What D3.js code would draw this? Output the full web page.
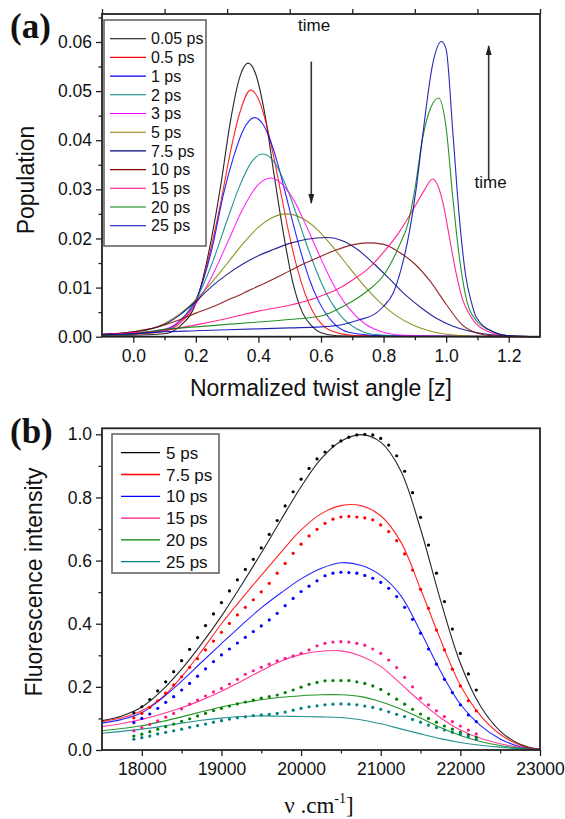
<!DOCTYPE html>
<html>
<head>
<meta charset="utf-8">
<script src="https://cdn.jsdelivr.net/npm/d3@7"></script>
<style>
  body { margin: 0; background: #fff; }
  svg { display: block; }
  text { font-family: Arial, "Liberation Sans", sans-serif; fill: #111; }
</style>
</head>
<body>
<svg id="chart" width="565" height="819"></svg>
<script>
// ---------- panel (a) data: population vs normalized twist angle ----------
const legendA = ["0.05 ps", "0.5 ps", "1 ps", "2 ps", "3 ps", "5 ps", "7.5 ps", "10 ps", "15 ps", "20 ps", "25 ps"];
const colorsA = ["#000000", "#ff0000", "#0000ff", "#008080", "#ff00ff", "#808000", "#000080", "#800000", "#ff0080", "#008000", "#0000b0"];

const pop005 = [[-0.1,0.0003],[0,0.0003],[0.1,0.0006],[0.15,0.0022],[0.2,0.0068],[0.25,0.020],[0.28,0.031],[0.31,0.0437],[0.34,0.0528],[0.367,0.0557],[0.39,0.0537],[0.42,0.0455],[0.45,0.033],[0.48,0.021],[0.51,0.011],[0.54,0.005],[0.57,0.0022],[0.6,0.0008],[0.65,0.0002],[0.8,0.0001],[1.3,0]];
const pop05 = [[-0.1,0.0004],[0,0.0005],[0.1,0.0011],[0.15,0.0028],[0.2,0.0072],[0.25,0.0185],[0.28,0.0275],[0.31,0.0375],[0.34,0.0455],[0.375,0.0502],[0.4,0.0484],[0.425,0.0434],[0.45,0.0363],[0.475,0.0282],[0.5,0.0203],[0.525,0.0137],[0.55,0.0086],[0.575,0.005],[0.6,0.0027],[0.625,0.0014],[0.7,0.0003],[0.9,0.0001],[1.3,0]];
const pop1 = [[-0.1,0.0004],[0,0.0006],[0.1,0.0013],[0.15,0.0033],[0.2,0.0075],[0.25,0.0175],[0.29,0.0295],[0.32,0.0365],[0.35,0.0419],[0.388,0.0446],[0.413,0.0434],[0.438,0.040],[0.463,0.0349],[0.488,0.0288],[0.513,0.0225],[0.538,0.0167],[0.563,0.0117],[0.588,0.0078],[0.638,0.0029],[0.688,0.0009],[0.8,0.0002],[1.3,0]];
const pop2 = [[-0.1,0.0004],[0,0.0006],[0.1,0.0013],[0.15,0.0033],[0.2,0.0075],[0.25,0.0146],[0.3,0.0237],[0.34,0.0307],[0.375,0.0353],[0.414,0.0372],[0.439,0.0364],[0.464,0.0341],[0.489,0.0306],[0.514,0.0263],[0.539,0.0216],[0.564,0.017],[0.589,0.0128],[0.614,0.0092],[0.664,0.0042],[0.714,0.0016],[0.764,0.0005],[0.9,0.0001],[1.3,0]];
const pop3 = [[-0.1,0.0005],[0,0.0007],[0.1,0.0015],[0.15,0.0032],[0.2,0.0067],[0.25,0.0121],[0.3,0.019],[0.35,0.026],[0.4,0.031],[0.439,0.0323],[0.464,0.0317],[0.489,0.0301],[0.514,0.0277],[0.539,0.0245],[0.564,0.021],[0.589,0.0174],[0.614,0.0139],[0.639,0.0107],[0.689,0.0058],[0.739,0.0027],[0.789,0.0011],[0.839,0.0004],[1.0,0.0001],[1.3,0]];
const pop5 = [[-0.1,0.0004],[0,0.0008],[0.1,0.0027],[0.15,0.0047],[0.2,0.0075],[0.25,0.011],[0.3,0.0149],[0.35,0.0189],[0.4,0.0223],[0.44,0.0241],[0.49,0.025],[0.54,0.0241],[0.59,0.0217],[0.64,0.0181],[0.69,0.0141],[0.74,0.0102],[0.79,0.0069],[0.84,0.0043],[0.89,0.0025],[0.94,0.0013],[0.99,0.0006],[1.1,0.0001],[1.3,0]];
const pop75 = [[-0.1,0.0005],[0,0.001],[0.1,0.0025],[0.15,0.0045],[0.2,0.0072],[0.25,0.0102],[0.3,0.0127],[0.35,0.0148],[0.4,0.0165],[0.45,0.0178],[0.5,0.019],[0.55,0.0198],[0.62,0.0202],[0.67,0.0195],[0.72,0.0176],[0.77,0.0148],[0.82,0.0117],[0.87,0.0085],[0.92,0.0059],[0.97,0.0037],[1.02,0.0022],[1.07,0.0012],[1.12,0.0006],[1.22,0.0001],[1.3,0]];
const pop10 = [[-0.1,0.0005],[0,0.001],[0.1,0.0024],[0.15,0.0035],[0.2,0.0048],[0.25,0.006],[0.3,0.0074],[0.35,0.0088],[0.4,0.0103],[0.45,0.0118],[0.5,0.0134],[0.55,0.015],[0.6,0.0164],[0.65,0.0177],[0.7,0.0187],[0.75,0.0191],[0.8,0.0188],[0.85,0.0172],[0.9,0.0148],[0.95,0.0112],[1.0,0.0066],[1.05,0.0025],[1.1,0.0007],[1.15,0.0002],[1.3,0]];
const pop15 = [[-0.1,0.0004],[0,0.0008],[0.1,0.0013],[0.2,0.0024],[0.3,0.0037],[0.4,0.0052],[0.5,0.0064],[0.55,0.0072],[0.6,0.0083],[0.65,0.0096],[0.7,0.0115],[0.75,0.0138],[0.8,0.0172],[0.85,0.0213],[0.9,0.0265],[0.93,0.0298],[0.957,0.0321],[0.975,0.0305],[0.99,0.0272],[1.01,0.0204],[1.032,0.0129],[1.053,0.0075],[1.075,0.0045],[1.095,0.0027],[1.15,0.0007],[1.2,0.0002],[1.3,0]];
const pop20 = [[-0.1,0.0003],[0,0.0006],[0.1,0.0015],[0.2,0.002],[0.3,0.0025],[0.4,0.003],[0.5,0.0035],[0.6,0.0042],[0.65,0.0055],[0.7,0.0072],[0.75,0.0094],[0.8,0.0125],[0.85,0.0185],[0.88,0.0235],[0.9,0.030],[0.925,0.0405],[0.95,0.0465],[0.976,0.0486],[1.0,0.0425],[1.021,0.0285],[1.042,0.0163],[1.063,0.0081],[1.095,0.0034],[1.15,0.001],[1.2,0.0002],[1.3,0]];
const pop25 = [[-0.1,0.0004],[0,0.0006],[0.1,0.001],[0.2,0.0012],[0.3,0.0014],[0.4,0.0016],[0.5,0.0018],[0.6,0.002],[0.67,0.0025],[0.72,0.0034],[0.776,0.0048],[0.8,0.0062],[0.83,0.0088],[0.855,0.0135],[0.883,0.0215],[0.904,0.03],[0.925,0.041],[0.957,0.0555],[0.985,0.0601],[1.0,0.0585],[1.021,0.042],[1.042,0.0244],[1.063,0.0122],[1.08,0.0072],[1.095,0.0041],[1.15,0.001],[1.2,0.0002],[1.3,0]];
const seriesA = [pop005, pop05, pop1, pop2, pop3, pop5, pop75, pop10, pop15, pop20, pop25];

const xTicksA = [0, 0.2, 0.4, 0.6, 0.8, 1.0, 1.2];
const xMinorA = [-0.1, 0.1, 0.3, 0.5, 0.7, 0.9, 1.1, 1.3];
const yTicksA = [0, 0.01, 0.02, 0.03, 0.04, 0.05, 0.06];
const yMinorA = [0.005, 0.015, 0.025, 0.035, 0.045, 0.055, 0.065];

// ---------- panel (b) data: fluorescence intensity vs wavenumber ----------
const legendB = ["5 ps", "7.5 ps", "10 ps", "15 ps", "20 ps", "25 ps"];
const colorsB = ["#000000", "#ff0000", "#0000ff", "#ff1a8c", "#008000", "#008080"];

const nuFit = [17500,17750,18000,18250,18500,18750,19000,19250,19500,19750,20000,20250,20500,20750,21000,21250,21500,21750,22000,22250,22500,22750,23000];
const fit5  = [0.093,0.108,0.136,0.188,0.256,0.336,0.424,0.522,0.624,0.73,0.834,0.922,0.978,0.999,0.975,0.885,0.70,0.475,0.275,0.14,0.06,0.018,0.002];
const fit75 = [0.09,0.102,0.124,0.165,0.232,0.313,0.40,0.478,0.553,0.627,0.697,0.748,0.774,0.774,0.742,0.66,0.51,0.35,0.205,0.11,0.05,0.015,0.002];
const fit10 = [0.085,0.097,0.118,0.163,0.218,0.278,0.337,0.395,0.45,0.498,0.542,0.575,0.593,0.585,0.553,0.49,0.375,0.25,0.145,0.078,0.035,0.01,0.001];
const fit15 = [0.074,0.084,0.097,0.114,0.134,0.158,0.186,0.218,0.251,0.282,0.303,0.313,0.314,0.298,0.265,0.21,0.153,0.102,0.063,0.037,0.02,0.008,0.001];
const fit20 = [0.061,0.068,0.077,0.09,0.105,0.121,0.136,0.149,0.159,0.167,0.172,0.175,0.175,0.169,0.153,0.13,0.101,0.071,0.046,0.027,0.014,0.006,0.001];
const fit25 = [0.053,0.059,0.066,0.075,0.085,0.094,0.101,0.106,0.108,0.107,0.106,0.105,0.103,0.096,0.083,0.067,0.051,0.036,0.024,0.015,0.009,0.004,0.001];
const fitsB = [fit5, fit75, fit10, fit15, fit20, fit25];

const nuExp = [17900,18000,18100,18200,18300,18400,18500,18600,18700,18800,18900,19000,19100,19200,19300,19400,19500,19600,19700,19800,19900,20000,20100,20200,20300,20400,20500,20600,20700,20800,20900,21000,21100,21200,21300,21400,21500,21600,21700,21800,21900,22000,22100,22200];
const exp5  = [0.118,0.137,0.160,0.187,0.216,0.248,0.283,0.319,0.356,0.394,0.431,0.467,0.504,0.539,0.572,0.604,0.640,0.683,0.727,0.773,0.818,0.858,0.892,0.922,0.944,0.963,0.979,0.991,0.998,1.0,0.998,0.987,0.966,0.932,0.883,0.815,0.737,0.649,0.560,0.470,0.383,0.306,0.241,0.190];
const exp75 = [0.102,0.116,0.135,0.156,0.180,0.206,0.232,0.262,0.289,0.317,0.345,0.373,0.401,0.428,0.452,0.476,0.501,0.528,0.560,0.591,0.623,0.652,0.678,0.699,0.718,0.731,0.738,0.740,0.738,0.735,0.729,0.713,0.692,0.663,0.621,0.570,0.509,0.449,0.380,0.317,0.256,0.203,0.156,0.124];
const exp10 = [0.087,0.100,0.114,0.132,0.151,0.169,0.190,0.211,0.234,0.257,0.280,0.301,0.320,0.339,0.357,0.375,0.393,0.412,0.433,0.457,0.480,0.502,0.519,0.536,0.552,0.560,0.563,0.562,0.560,0.553,0.544,0.531,0.512,0.486,0.452,0.414,0.370,0.320,0.272,0.224,0.182,0.143,0.111,0.090];
const exp15 = [0.061,0.071,0.081,0.092,0.104,0.116,0.130,0.145,0.158,0.171,0.184,0.195,0.209,0.224,0.240,0.251,0.262,0.272,0.282,0.290,0.298,0.306,0.317,0.330,0.338,0.342,0.343,0.342,0.338,0.332,0.320,0.306,0.285,0.261,0.230,0.200,0.164,0.143,0.124,0.106,0.090,0.076,0.063,0.051];
const exp20 = [0.044,0.050,0.058,0.066,0.074,0.082,0.091,0.099,0.108,0.116,0.125,0.132,0.139,0.146,0.152,0.158,0.164,0.169,0.174,0.182,0.190,0.199,0.208,0.214,0.219,0.220,0.220,0.220,0.216,0.211,0.203,0.192,0.177,0.161,0.145,0.129,0.114,0.100,0.088,0.076,0.066,0.056,0.048,0.040];
const exp25 = [0.034,0.039,0.044,0.051,0.056,0.061,0.066,0.072,0.077,0.082,0.088,0.093,0.098,0.102,0.105,0.109,0.111,0.113,0.116,0.120,0.126,0.132,0.137,0.140,0.143,0.145,0.146,0.145,0.143,0.139,0.135,0.129,0.121,0.113,0.106,0.097,0.088,0.079,0.071,0.063,0.056,0.050,0.042,0.034];
const expsB = [exp5, exp75, exp10, exp15, exp20, exp25];

const xTicksB = [18000, 19000, 20000, 21000, 22000, 23000];
const xMinorB = [18500, 19500, 20500, 21500, 22500];
const yTicksB = [0, 0.2, 0.4, 0.6, 0.8, 1.0];
const yMinorB = [0.1, 0.3, 0.5, 0.7, 0.9];

// ---------- drawing ----------
const svg = d3.select("#chart");
const AXIS_COLOR = "#222";
const TICK_FONT = 17.5;
const SERIF = "'Times New Roman', 'Liberation Serif', serif";

const xA = d3.scaleLinear().domain([-0.1, 1.3]).range([102, 540]);
const yA = d3.scaleLinear().domain([0, 0.0657]).range([336.7, 14]);
const xB = d3.scaleLinear().domain([17500, 23000]).range([102, 540]);
const yB = d3.scaleLinear().domain([0, 1.019]).range([750, 428.3]);

function styleAxis(g) {
    g.select(".domain").remove();
    g.selectAll(".tick line").attr("stroke", AXIS_COLOR).attr("stroke-width", 1.3);
    g.selectAll(".tick text").style("font-size", TICK_FONT + "px").attr("fill", "#111");
}

function drawFrame(x, y) {
    const [x0, x1] = x.range();
    const [y0, y1] = y.range();
    svg.append("rect")
        .attr("x", x0).attr("y", y1)
        .attr("width", x1 - x0).attr("height", y0 - y1)
        .attr("fill", "none")
        .attr("stroke", AXIS_COLOR)
        .attr("stroke-width", 1.8);
}

function drawTicks({x, y, xTicks, xMinor, yTicks, yMinor, xFormat, yFormat, topTicks}) {
    const yBottom = y.range()[0], xLeft = x.range()[0], yTop = y.range()[1];

    svg.append("g").attr("transform", `translate(0,${yBottom})`)
        .call(d3.axisBottom(x).tickValues(xTicks).tickSize(6).tickPadding(7).tickFormat(xFormat))
        .call(styleAxis);
    svg.append("g").attr("transform", `translate(0,${yBottom})`)
        .call(d3.axisBottom(x).tickValues(xMinor).tickSize(3.5).tickFormat(""))
        .call(styleAxis);

    svg.append("g").attr("transform", `translate(${xLeft},0)`)
        .call(d3.axisLeft(y).tickValues(yTicks).tickSize(6).tickPadding(4).tickFormat(yFormat))
        .call(styleAxis);
    svg.append("g").attr("transform", `translate(${xLeft},0)`)
        .call(d3.axisLeft(y).tickValues(yMinor).tickSize(3.5).tickFormat(""))
        .call(styleAxis);

    if (topTicks) {
        svg.append("g").attr("transform", `translate(0,${yTop})`)
            .call(d3.axisTop(x).tickValues(topTicks).tickSize(5).tickFormat(""))
            .call(styleAxis);
    }
}

function drawLegend({labels, colors, left, top, width, height, rowStart, rowStep, lineX0, lineX1, textX, fontSize, lineWidth}) {
    const g = svg.append("g");
    g.append("rect")
        .attr("x", left).attr("y", top)
        .attr("width", width).attr("height", height)
        .attr("fill", "#fff")
        .attr("stroke", "#666")
        .attr("stroke-width", 1.6);
    labels.forEach((label, i) => {
        const yy = top + rowStart + i * rowStep;
        g.append("line")
            .attr("x1", left + lineX0).attr("x2", left + lineX1)
            .attr("y1", yy).attr("y2", yy)
            .attr("stroke", colors[i])
            .attr("stroke-width", lineWidth);
        g.append("text")
            .attr("x", left + textX).attr("y", yy)
            .attr("dy", "0.36em")
            .style("font-size", fontSize + "px")
            .text(label);
    });
}

// ---- panel (a) ----
const lineA = d3.line()
    .x(d => xA(d[0]))
    .y(d => yA(d[1]))
    .curve(d3.curveMonotoneX);

svg.append("g")
    .selectAll("path")
    .data(seriesA)
    .join("path")
    .attr("d", lineA)
    .attr("fill", "none")
    .attr("stroke", (d, i) => colorsA[i])
    .attr("stroke-opacity", 0.85)
    .attr("stroke-width", 1.1);

drawFrame(xA, yA);
drawTicks({
    x: xA, y: yA,
    xTicks: xTicksA, xMinor: xMinorA.filter(v => v > -0.1 && v < 1.3),
    yTicks: yTicksA, yMinor: yMinorA,
    xFormat: d3.format(".1f"), yFormat: d3.format(".2f"),
    topTicks: xMinorA
});

drawLegend({
    labels: legendA, colors: colorsA,
    left: 104, top: 20, width: 102, height: 226,
    rowStart: 18.7, rowStep: 18.7,
    lineX0: 6, lineX1: 42, textX: 47,
    fontSize: 16, lineWidth: 1.1
});

// "time" arrows
svg.append("defs").append("marker")
    .attr("id", "arrowHead")
    .attr("viewBox", "0 0 10 6")
    .attr("refX", 9).attr("refY", 3)
    .attr("markerWidth", 10).attr("markerHeight", 6)
    .attr("markerUnits", "userSpaceOnUse")
    .attr("orient", "auto")
    .append("path")
    .attr("d", "M0,0 L10,3 L0,6 Z")
    .attr("fill", "#222");

const arrowsA = [
    {z: 0.569, from: 0.0560, to: 0.0272, label: "time", lz: 0.578, lv: 0.0623},
    {z: 1.136, from: 0.0320, to: 0.0592, label: "time", lz: 1.142, lv: 0.0303}
];
arrowsA.forEach(a => {
    svg.append("line")
        .attr("x1", xA(a.z)).attr("x2", xA(a.z))
        .attr("y1", yA(a.from)).attr("y2", yA(a.to))
        .attr("stroke", "#333")
        .attr("stroke-width", 1.6)
        .attr("marker-end", "url(#arrowHead)");
    svg.append("text")
        .attr("x", xA(a.lz)).attr("y", yA(a.lv))
        .attr("text-anchor", "middle")
        .style("font-size", "17px")
        .text(a.label);
});

svg.append("text")
    .attr("transform", "translate(34,180) rotate(-90)")
    .attr("text-anchor", "middle")
    .style("font-size", "23px")
    .text("Population");
svg.append("text")
    .attr("x", 321).attr("y", 396)
    .attr("text-anchor", "middle")
    .style("font-size", "23px")
    .text("Normalized twist angle [z]");
svg.append("text")
    .attr("x", 10).attr("y", 38)
    .style("font-family", SERIF)
    .style("font-weight", "bold")
    .style("font-size", "35px")
    .text("(a)");

// ---- panel (b) ----
const lineB = d3.line()
    .x((d, i) => xB(nuFit[i]))
    .y(d => yB(d))
    .curve(d3.curveCatmullRom.alpha(0.5));

svg.append("g")
    .selectAll("path")
    .data(fitsB)
    .join("path")
    .attr("d", lineB)
    .attr("fill", "none")
    .attr("stroke", (d, i) => colorsB[i])
    .attr("stroke-opacity", 0.85)
    .attr("stroke-width", 1.1);

expsB.forEach((vals, k) => {
    svg.append("g")
        .selectAll("circle")
        .data(vals)
        .join("circle")
        .attr("cx", (d, i) => xB(nuExp[i]))
        .attr("cy", d => yB(d))
        .attr("r", 1.6)
        .attr("fill", colorsB[k]);
});

drawFrame(xB, yB);
drawTicks({
    x: xB, y: yB,
    xTicks: xTicksB, xMinor: xMinorB,
    yTicks: yTicksB, yMinor: yMinorB,
    xFormat: d3.format("d"), yFormat: d3.format(".1f"),
    topTicks: null
});

drawLegend({
    labels: legendB, colors: colorsB,
    left: 112, top: 434, width: 107, height: 139,
    rowStart: 18.7, rowStep: 21.8,
    lineX0: 9, lineX1: 48, textX: 54,
    fontSize: 17, lineWidth: 1.3
});

svg.append("text")
    .attr("transform", "translate(42,582) rotate(-90)")
    .attr("text-anchor", "middle")
    .style("font-size", "23px")
    .text("Fluorescence intensity");

const nuLabel = svg.append("text")
    .attr("x", 319).attr("y", 813)
    .attr("text-anchor", "middle")
    .style("font-family", SERIF)
    .style("font-size", "23px");
nuLabel.append("tspan").text("\u03bd  .cm");
nuLabel.append("tspan").attr("dy", -10).style("font-size", "14px").text("-1");
nuLabel.append("tspan").attr("dy", 10).text("]");

svg.append("text")
    .attr("x", 10).attr("y", 443)
    .style("font-family", SERIF)
    .style("font-weight", "bold")
    .style("font-size", "35px")
    .text("(b)");
</script>
</body>
</html>
